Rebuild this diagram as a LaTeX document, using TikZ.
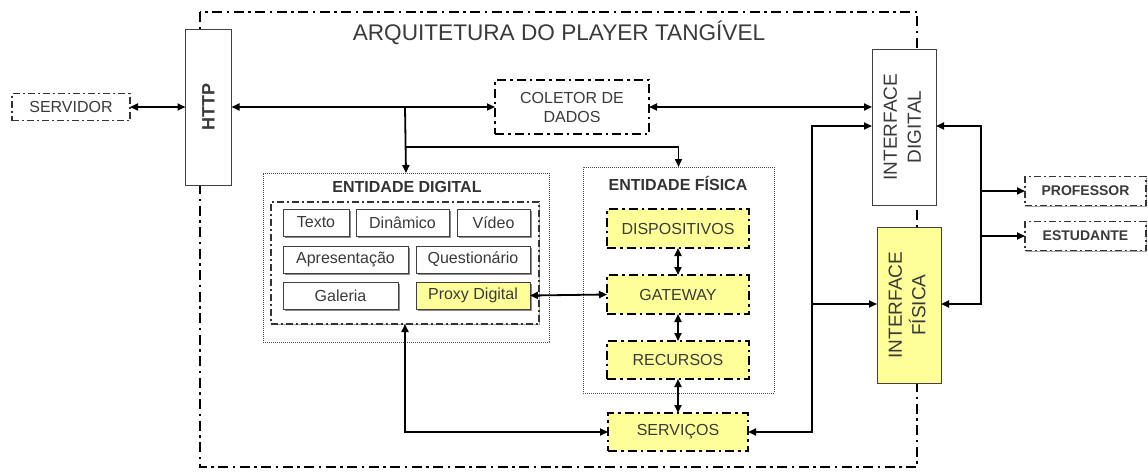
\documentclass[tikz,border=0pt]{standalone}
\usepackage{fontspec}
\setmainfont{Liberation Sans}
\usetikzlibrary{arrows.meta,shadows,calc}
\definecolor{yel}{HTML}{FFFF99}
\definecolor{txt}{HTML}{3A3A3A}
\begin{document}
\begin{tikzpicture}[x=1pt,y=-1pt,
  every node/.style={inner sep=0pt,outer sep=0pt,text=txt},
  >={Triangle[length=8pt,width=7pt]},
  f16/.style={font=\fontsize{16}{19}\selectfont},
  frame/.style={line width=1.8pt, dash pattern=on 10pt off 4.5pt on 2.5pt off 4.5pt},
  ddbox/.style={draw, line width=1.8pt, dash pattern=on 9pt off 4pt on 2.5pt off 4pt, fill=white, f16},
  ybox/.style={ddbox, fill=yel},
  extbox/.style={draw=black!80, line width=1.1pt, dash pattern=on 7pt off 3pt on 2pt off 3pt, fill=white},
  plain/.style={draw=black!75, line width=0.8pt, fill=white, f16,
     drop shadow={shadow xshift=1.5pt,shadow yshift=-1.5pt,fill=black!45,opacity=1}},
  tall/.style={draw=black!75, line width=0.9pt, fill=white},
  dotbox/.style={draw=black!70, line width=0.7pt, dash pattern=on 0.8pt off 1.2pt},
  conn/.style={line width=1.8pt},
  ttl/.style={font=\fontsize{16}{19}\selectfont\bfseries, text=black!80}
]
\useasboundingbox (0,0) rectangle (1148,471);

% outer frame
\draw[frame] (200,12) rectangle (917,467);
\node[font=\fontsize{22.6}{26}\selectfont] (title) at (559,33) {ARQUITETURA DO PLAYER TANGÍVEL};

% left side
\node[extbox, minimum width=118pt, minimum height=27pt, f16] (serv0) at (71,107) {SERVIDOR};
\node[tall, minimum width=46pt, minimum height=156pt] (http) at (208.5,107)
   {\rotatebox{90}{\fontsize{18}{21}\selectfont\bfseries HTTP}};

% coletor
\node[ddbox, minimum width=154pt, minimum height=54pt, align=center] (col) at (572,107)
   {COLETOR DE\\DADOS};

% entidade digital
\node[dotbox, minimum width=286pt, minimum height=169pt] (ed) at (406,257.5) {};
\node[ttl] (edt) at (407,187) {ENTIDADE DIGITAL};
\node[draw=black!80, line width=1.1pt, dash pattern=on 7pt off 3pt on 2pt off 3pt,
      minimum width=268pt, minimum height=122pt,
      drop shadow={shadow xshift=1pt,shadow yshift=-1pt,fill=black!35,opacity=1}, fill=white] (edin) at (405,263) {};
\node[plain, minimum width=66pt, minimum height=27pt] (texto) at (316,222.5) {Texto};
\node[plain, minimum width=93pt, minimum height=27pt] (din) at (402.5,222.5) {Dinâmico};
\node[plain, minimum width=73pt, minimum height=27pt] (vid) at (493.5,222.5) {Vídeo};
\node[plain, minimum width=125pt, minimum height=27pt] (apr) at (345.5,259.5) {Apresentação};
\node[plain, minimum width=114pt, minimum height=27pt] (que) at (473,259.5) {Questionário};
\node[plain, minimum width=115pt, minimum height=27pt] (gal) at (340.5,295.5) {Galeria};
\node[plain, minimum width=114pt, minimum height=27pt, fill=yel] (proxy) at (473,295.5) {Proxy Digital};

% entidade fisica
\node[dotbox, minimum width=191pt, minimum height=226pt] (ef) at (678.5,280) {};
\node[ttl] (eft) at (678,183) {ENTIDADE FÍSICA};
\node[ybox, minimum width=142pt, minimum height=39pt] (disp) at (678,228.5) {DISPOSITIVOS};
\node[ybox, minimum width=142pt, minimum height=39pt] (gate) at (678,294.5) {GATEWAY};
\node[ybox, minimum width=142pt, minimum height=38pt] (rec) at (678,360) {RECURSOS};
\node[ybox, minimum width=140pt, minimum height=38pt] (servi) at (678,432) {SERVIÇOS};

% interfaces
\node[tall, minimum width=64pt, minimum height=156pt] (idig) at (904,127)
   {\rotatebox{90}{\fontsize{19}{24}\selectfont\begin{tabular}{@{}c@{}}INTERFACE\\DIGITAL\end{tabular}}};
\node[tall, fill=yel, minimum width=64pt, minimum height=156pt] (ifis) at (909,305)
   {\rotatebox{90}{\fontsize{19}{23}\selectfont\begin{tabular}{@{}c@{}}INTERFACE\\FÍSICA\end{tabular}}};

% users
\node[extbox, minimum width=121pt, minimum height=29pt, font=\fontsize{14}{16}\selectfont\bfseries,
      drop shadow={shadow xshift=1pt,shadow yshift=-1.5pt,fill=black!35,opacity=1}] (prof) at (1085.5,191) {PROFESSOR};
\node[extbox, minimum width=121pt, minimum height=29pt, font=\fontsize{14}{16}\selectfont\bfseries,
      drop shadow={shadow xshift=1pt,shadow yshift=-1.5pt,fill=black!35,opacity=1}] (est) at (1085.5,236) {ESTUDANTE};

% connectors
\coordinate (j1) at (405,107);
\coordinate (j2) at (405,147);
\coordinate (b1) at (812,126);
\coordinate (b2) at (812,304);
\coordinate (r1) at (981,126);
\coordinate (r2) at (981,304);

\draw[conn,<->] (serv0.east) -- (http.west);
\draw[conn,<->] (http.east) -- (col.west);
\draw[conn,->] (j1) -- (ed.north);
\draw[conn,->] (j2) -| (ef.north);
\draw[conn,<->] (col.east) -- (col.east -| idig.west);
\draw[conn,<->] (proxy.east) -- (gate.west);
\draw[conn,<->] (disp.south) -- (gate.north);
\draw[conn,<->] (gate.south) -- (rec.north);
\draw[conn,<->] (rec.south) -- (servi.north);
\draw[conn,<->] (edin.south) |- (servi.west);
\draw[conn,<->] (servi.east) -| (b1) -- (b1 -| idig.west);
\draw[conn,->] (b2) -- (b2 -| ifis.west);
\draw[conn,<->] (r1 -| idig.east) -- (r1) -- (r2) -- (r2 -| ifis.east);
\draw[conn,->] (r1 |- prof.west) -- (prof.west);
\draw[conn,->] (r1 |- est.west) -- (est.west);
\end{tikzpicture}
\end{document}
